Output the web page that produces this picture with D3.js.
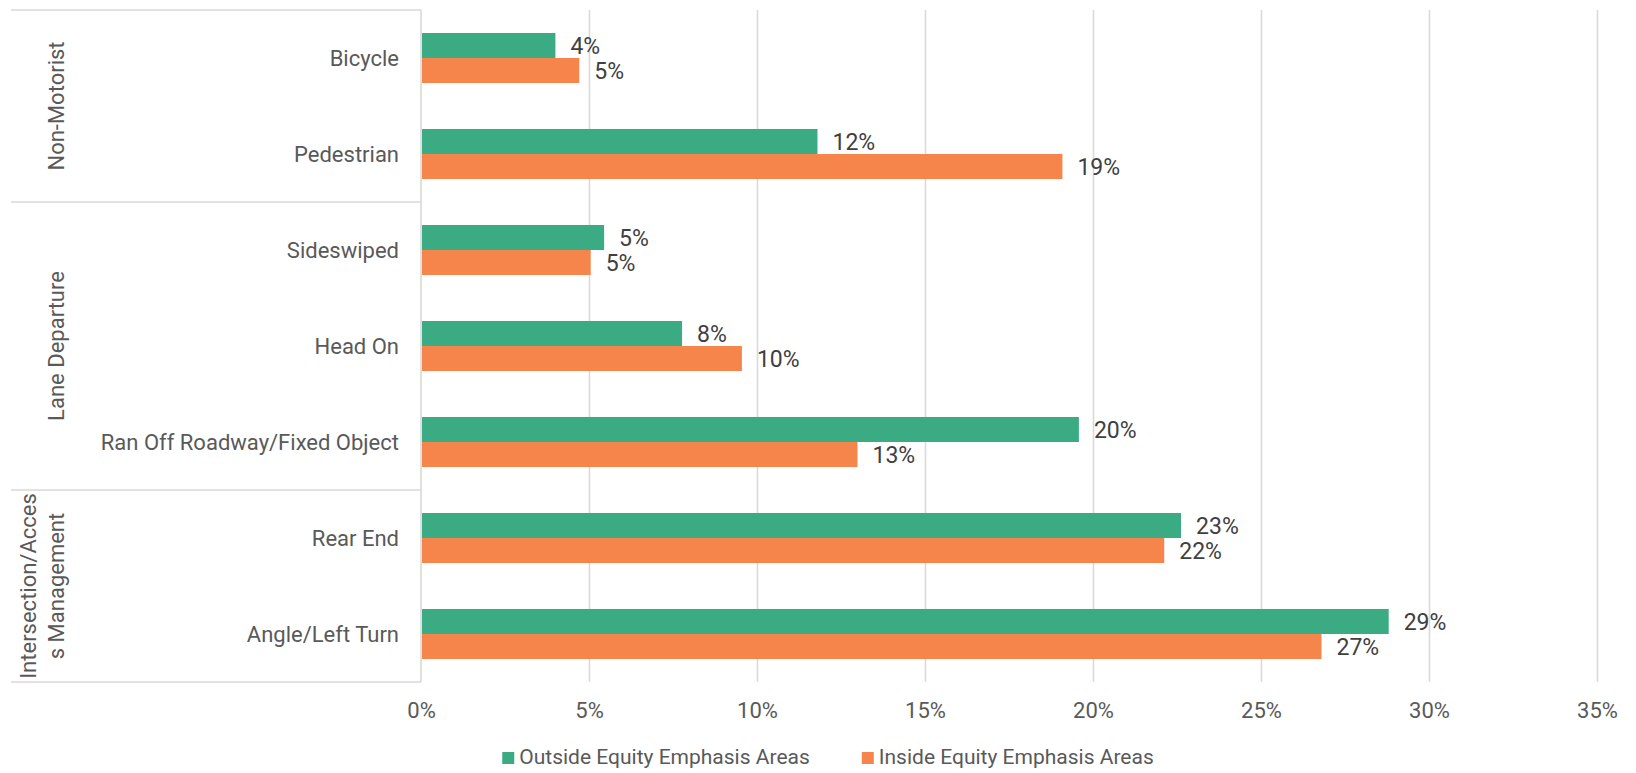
<!DOCTYPE html>
<html>
<head>
<meta charset="utf-8">
<script src="https://cdn.jsdelivr.net/npm/d3@7"></script>
<style>
  html, body { margin: 0; padding: 0; background: #fff; }
  svg { display: block; font-family: Roboto, "Liberation Sans", sans-serif; }
</style>
</head>
<body>
<svg id="chart" width="1636" height="773"></svg>
<script>
// ---- data ----
const categories = ["Bicycle", "Pedestrian", "Sideswiped", "Head On", "Ran Off Roadway/Fixed Object", "Rear End", "Angle/Left Turn"];
const categoryGroup = ["Non-Motorist", "Non-Motorist", "Lane Departure", "Lane Departure", "Lane Departure", "Intersection/Access Management", "Intersection/Access Management"];
const groups = ["Non-Motorist", "Lane Departure", "Intersection/Access Management"];
const groupLabelLines = [["Non-Motorist"], ["Lane Departure"], ["Intersection/Acces", "s Management"]];
const seriesNames = ["Outside Equity Emphasis Areas", "Inside Equity Emphasis Areas"];
const outsideValues = [4.0, 11.8, 5.45, 7.77, 19.58, 22.62, 28.8];
const insideValues = [4.71, 19.09, 5.05, 9.55, 12.99, 22.12, 26.8];
const xTicks = [0, 5, 10, 15, 20, 25, 30, 35];
const colors = ["#3aab83", "#f5854a"];

// ---- layout ----
const svg = d3.select("#chart");
const plotLeft = 421, plotRight = 1597, plotTop = 10, plotBottom = 682;
const gridColor = "#d9d9d9";
const labelColor = "#595959";
const fs = 22;

const x = d3.scaleLinear().domain([0, 35]).range([plotLeft, plotRight]);
const y = d3.scaleBand().domain(categories).range([plotTop, plotBottom]).paddingInner(0.479).paddingOuter(0.2395);
const ys = d3.scaleBand().domain(seriesNames).range([0, y.bandwidth()]);

// gridlines
const gridAxis = d3.axisBottom(x).tickValues(xTicks.slice(1)).tickSize(-(plotBottom - plotTop)).tickFormat("");
svg.append("g").attr("transform", `translate(0,${plotBottom})`).call(gridAxis)
  .call(g => g.select(".domain").remove())
  .call(g => g.selectAll("line").attr("stroke", gridColor).attr("stroke-width", 1.6));

// tick labels
const tickAxis = d3.axisBottom(x).tickValues(xTicks).tickSize(0).tickPadding(0).tickFormat(d => d + "%");
svg.append("g").attr("transform", `translate(0,${plotBottom + 28})`).call(tickAxis)
  .call(g => g.select(".domain").remove())
  .call(g => g.selectAll("text").attr("fill", labelColor).attr("font-size", fs)
    .attr("font-family", "Roboto, 'Liberation Sans', sans-serif").attr("dy", "0.35em"));

// category axis lines (vertical axis + group separators)
svg.append("line").attr("x1", plotLeft).attr("x2", plotLeft).attr("y1", plotTop).attr("y2", plotBottom)
  .attr("stroke", gridColor).attr("stroke-width", 1.6);
const groupBounds = groups.map(gname => {
  const cats = categories.filter((c, i) => categoryGroup[i] === gname);
  const y0 = y(cats[0]) - y.step() * y.paddingInner() / 2;
  const y1 = y(cats[cats.length - 1]) + y.bandwidth() + y.step() * y.paddingInner() / 2;
  return { name: gname, y0, y1 };
});
const sepYs = [groupBounds[0].y0].concat(groupBounds.map(b => b.y1));
svg.selectAll("line.sep").data(sepYs).join("line").attr("class", "sep")
  .attr("x1", 11).attr("x2", plotLeft).attr("y1", d => d).attr("y2", d => d)
  .attr("stroke", gridColor).attr("stroke-width", 1.6);

// group labels (rotated)
groupBounds.forEach((b, gi) => {
  const lines = groupLabelLines[gi];
  const cy = (b.y0 + b.y1) / 2;
  const lh = 28;
  const t = svg.append("text")
    .attr("transform", `translate(${56},${cy}) rotate(-90)`)
    .attr("text-anchor", "middle").attr("fill", labelColor).attr("font-size", fs);
  lines.forEach((ln, li) => {
    t.append("tspan").attr("x", 0).attr("y", -(lines.length - 1 - li) * lh).attr("dy", "0.35em").text(ln);
  });
});

// category labels
svg.selectAll("text.cat").data(categories).join("text").attr("class", "cat")
  .attr("x", 399).attr("y", d => y(d) + y.bandwidth() / 2).attr("dy", "0.35em")
  .attr("text-anchor", "end").attr("fill", labelColor).attr("font-size", fs).text(d => d);

// bars
const seriesValues = [outsideValues, insideValues];
seriesNames.forEach((s, si) => {
  const vals = seriesValues[si];
  const g = svg.append("g");
  g.selectAll("rect").data(categories).join("rect")
    .attr("x", x(0) + 1)
    .attr("y", d => y(d) + ys(s))
    .attr("width", (d, i) => x(vals[i]) - x(0) - 1)
    .attr("height", ys.bandwidth())
    .attr("fill", colors[si]);
  g.selectAll("text").data(categories).join("text")
    .attr("x", (d, i) => x(vals[i]) + 15)
    .attr("y", d => y(d) + ys(s) + ys.bandwidth() / 2)
    .attr("dy", "0.36em")
    .attr("fill", "#404040").attr("font-size", 23)
    .text((d, i) => Math.round(vals[i]) + "%");
});

// legend
const legendY = 757;
const lg = svg.append("g");
const items = lg.selectAll("g").data(seriesNames).join("g");
items.append("rect").attr("width", 12).attr("height", 12).attr("y", legendY - 5)
  .attr("fill", (d, i) => colors[i]);
items.append("text").attr("x", 17).attr("y", legendY).attr("dy", "0.35em")
  .attr("fill", labelColor).attr("font-size", 21).text(d => d);
let cursor = 0;
const gap = 52;
const widths = [];
items.each(function () { widths.push(17 + d3.select(this).select("text").node().getComputedTextLength()); });
const total = d3.sum(widths) + gap * (widths.length - 1);
const startX = 828 - total / 2;
items.attr("transform", (d, i) => {
  const tx = startX + cursor;
  cursor += widths[i] + gap;
  return `translate(${tx},0)`;
});
</script>
</body>
</html>
